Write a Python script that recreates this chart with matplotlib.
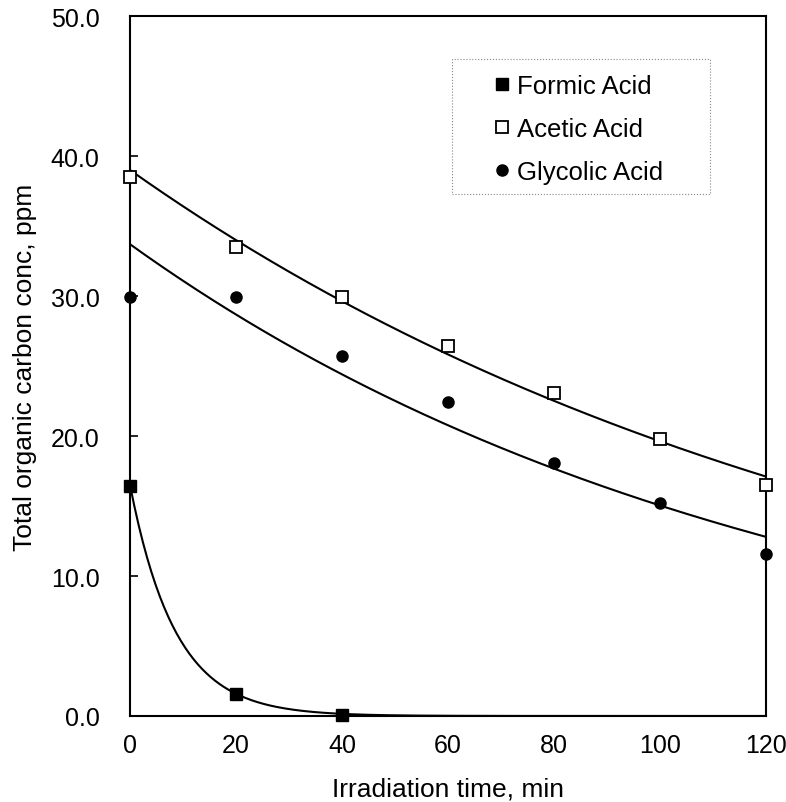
import numpy as np
import matplotlib.pyplot as plt
from matplotlib.patches import Rectangle

plt.rcParams['font.family'] = ['Liberation Sans', 'DejaVu Sans']

# measured points
time_min = [0, 20, 40, 60, 80, 100, 120]
formic_t = [0, 20, 40]
formic = [16.4, 1.6, 0.1]
acetic = [38.5, 33.5, 29.9, 26.4, 23.1, 19.8, 16.5]
glycolic = [29.9, 29.9, 25.7, 22.4, 18.1, 15.2, 11.6]

# first-order fit curves (c0, k)
formic_fit = (16.5, 0.117)
acetic_fit = (39.0, 0.00687)
glycolic_fit = (33.7, 0.00807)

x_ticks = [0, 20, 40, 60, 80, 100, 120]
y_ticks = [0, 10, 20, 30, 40, 50]

fig = plt.figure(figsize=(7.86, 8.03), dpi=100)
ax = fig.add_axes([0.1654, 0.1071, 0.8092, 0.8717])

t = np.linspace(0, 120, 300)
for c0, k in (formic_fit, acetic_fit, glycolic_fit):
    ax.plot(t, c0 * np.exp(-k * t), color='black', lw=1.5, zorder=2)

ax.plot(formic_t, formic, 's', color='black', ms=8, clip_on=False, zorder=3,
        label='Formic Acid')
ax.plot(time_min, acetic, 's', mfc='white', mec='black', mew=1.3, ms=8,
        clip_on=False, zorder=3, label='Acetic Acid')
ax.plot(time_min, glycolic, 'o', color='black', ms=8, clip_on=False, zorder=3,
        label='Glycolic Acid')

ax.set_xlim(0, 120)
ax.set_ylim(0, 50)
ax.set_xticks(x_ticks)
ax.set_yticks(y_ticks)
ax.set_yticklabels([f'{v:.1f}' for v in y_ticks])
ax.tick_params(axis='y', direction='in', length=6, width=1.2, pad=22, labelsize=18)
ax.tick_params(axis='x', length=0, pad=12, labelsize=18)
for s in ax.spines.values():
    s.set_linewidth(1.5)

ax.set_xlabel('Irradiation time, min', fontsize=19, labelpad=14)
ax.set_ylabel('Total organic carbon conc, ppm', fontsize=19, labelpad=10)

ax.add_patch(Rectangle((0.506, 0.7457), 0.406, 0.193, transform=ax.transAxes,
                       fill=False, ec='#888888', lw=0.8, ls=':'))
ax.legend(loc='upper left', bbox_to_anchor=(0.5645, 0.917), frameon=False,
          borderpad=0, borderaxespad=0, handlelength=1, handletextpad=0.1,
          labelspacing=0.74, fontsize=18.5)

fig.savefig('out.png', dpi=100)
